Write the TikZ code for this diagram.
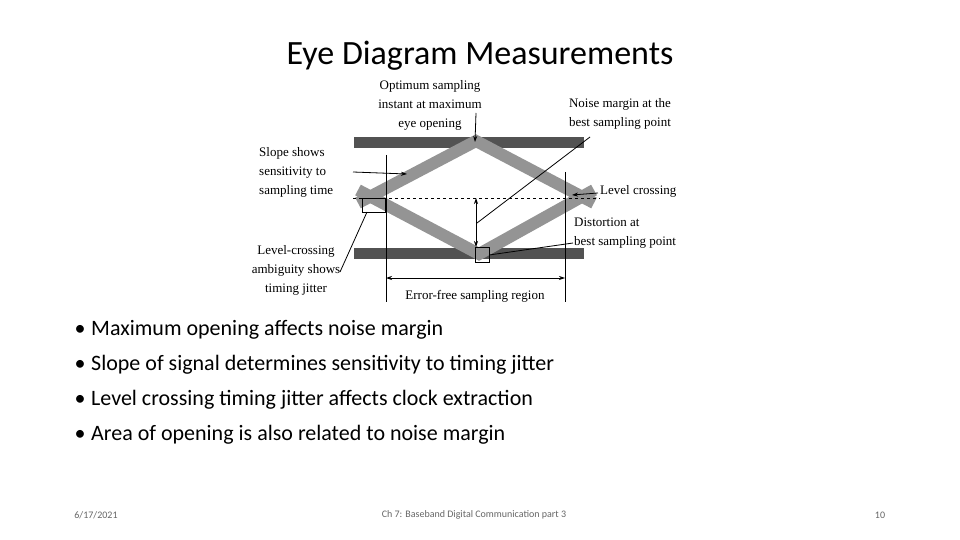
\documentclass[tikz,border=0pt]{standalone}
\usepackage{fontspec}
\setmainfont{Carlito}
\newfontfamily\tnr{Liberation Serif}
\usetikzlibrary{arrows.meta}
\begin{document}
\begin{tikzpicture}[x=1pt,y=-1pt,
  lbl/.style={font=\tnr\fontsize{13}{19}\selectfont,inner sep=0pt,align=center},
  lbll/.style={lbl,align=left,anchor=west},
  thin/.style={line width=0.8pt},
  arr/.style={thin,-{Stealth[length=6pt,width=4pt]}},
  bar/.style={line width=11pt,color=black!68},
  band/.style={line width=12pt,color=black!42},
  bul/.style={font=\fontsize{22}{26}\selectfont,anchor=base west,inner sep=0pt}]
\useasboundingbox[fill=white] (0,0) rectangle (960,540);
\node[font=\fontsize{34}{40}\selectfont,anchor=base] (title) at (480,65) {Eye Diagram Measurements};
% bars
\draw[bar] (354,143) -- (584,143);
\draw[bar] (354,253) -- (584,253);
% bands
\draw[band] (358,203) -- (476,141) -- (594,203);
\draw[band] (358,190) -- (479,254) -- (594,190);
\draw[thin,dashed] (353,198) -- (600,198);
% verticals
\coordinate (vl1) at (386,155); \coordinate (vl2) at (386,302);
\coordinate (vr1) at (565,172); \coordinate (vr2) at (565,302);
\draw[thin] (vl1) -- (vl2); \draw[thin] (vr1) -- (vr2);
\node[draw,thin,minimum width=23pt,minimum height=14pt,inner sep=0pt,anchor=north west] (boxl) at (362,198) {};
\node[draw,thin,minimum width=14pt,minimum height=15pt,inner sep=0pt,anchor=north west] (boxb) at (475,247) {};
\coordinate (na) at (476,198); \coordinate (nb) at (476,247);
\draw[thin,{Stealth[length=6pt,width=4pt]}-{Stealth[length=6pt,width=4pt]}] (na) -- (nb);
% labels
\node[lbl] (opt) at (430,105) {Optimum sampling\\instant at maximum\\eye opening};
\coordinate (apex) at (475,142);
\draw[arr] (476,113) -- (apex);
\node[lbl] (noise) at (620,114) {Noise margin at the\\best sampling point};
\coordinate (nm) at (477,223);
\draw[thin] (590,137) -- (nm);
\node[lbll] (slope) at (259,172) {Slope shows\\sensitivity to\\sampling time};
\coordinate (sl) at (407,174);
\draw[arr] (353,172) -- (sl);
\node[lbll] (lc) at (600,191) {Level crossing};
\coordinate (lcp) at (572,195);
\draw[arr] (598,193) -- (lcp);
\node[lbll] (dist) at (574,233) {Distortion at\\best sampling point};
\draw[thin] (573,243) -- (boxb.east);
\node[lbl] (amb) at (296,270) {Level-crossing\\ambiguity shows\\timing jitter};
\draw[thin] (340,272) -- (367,212);
\node[lbl] (efr) at (475,296) {Error-free sampling region};
\coordinate (e1) at (386,278); \coordinate (e2) at (565,278);
\draw[thin,{Stealth[length=6pt,width=4pt]}-{Stealth[length=6pt,width=4pt]}] (e1) -- (e2);
% bullets
\foreach \y/\t [count=\i] in {335/Maximum opening affects noise margin,370/Slope of signal determines sensitivity to timing jitter,405/Level crossing timing jitter affects clock extraction,440/Area of opening is also related to noise margin}{
  \node[bul] (b\i) at (91,\y) {\t};
  \node[bul,anchor=base] (d\i) at (80,\y) {•};
}
\node[font=\fontsize{10}{12}\selectfont,text=black!60] (date) at (96,515) {6/17/2021};
\node[font=\fontsize{10}{12}\selectfont,text=black!60] (foot) at (474,515) {Ch 7: Baseband Digital Communication part 3};
\node[font=\fontsize{10}{12}\selectfont,text=black!60] (pg) at (880,515) {10};
\end{tikzpicture}
\end{document}
